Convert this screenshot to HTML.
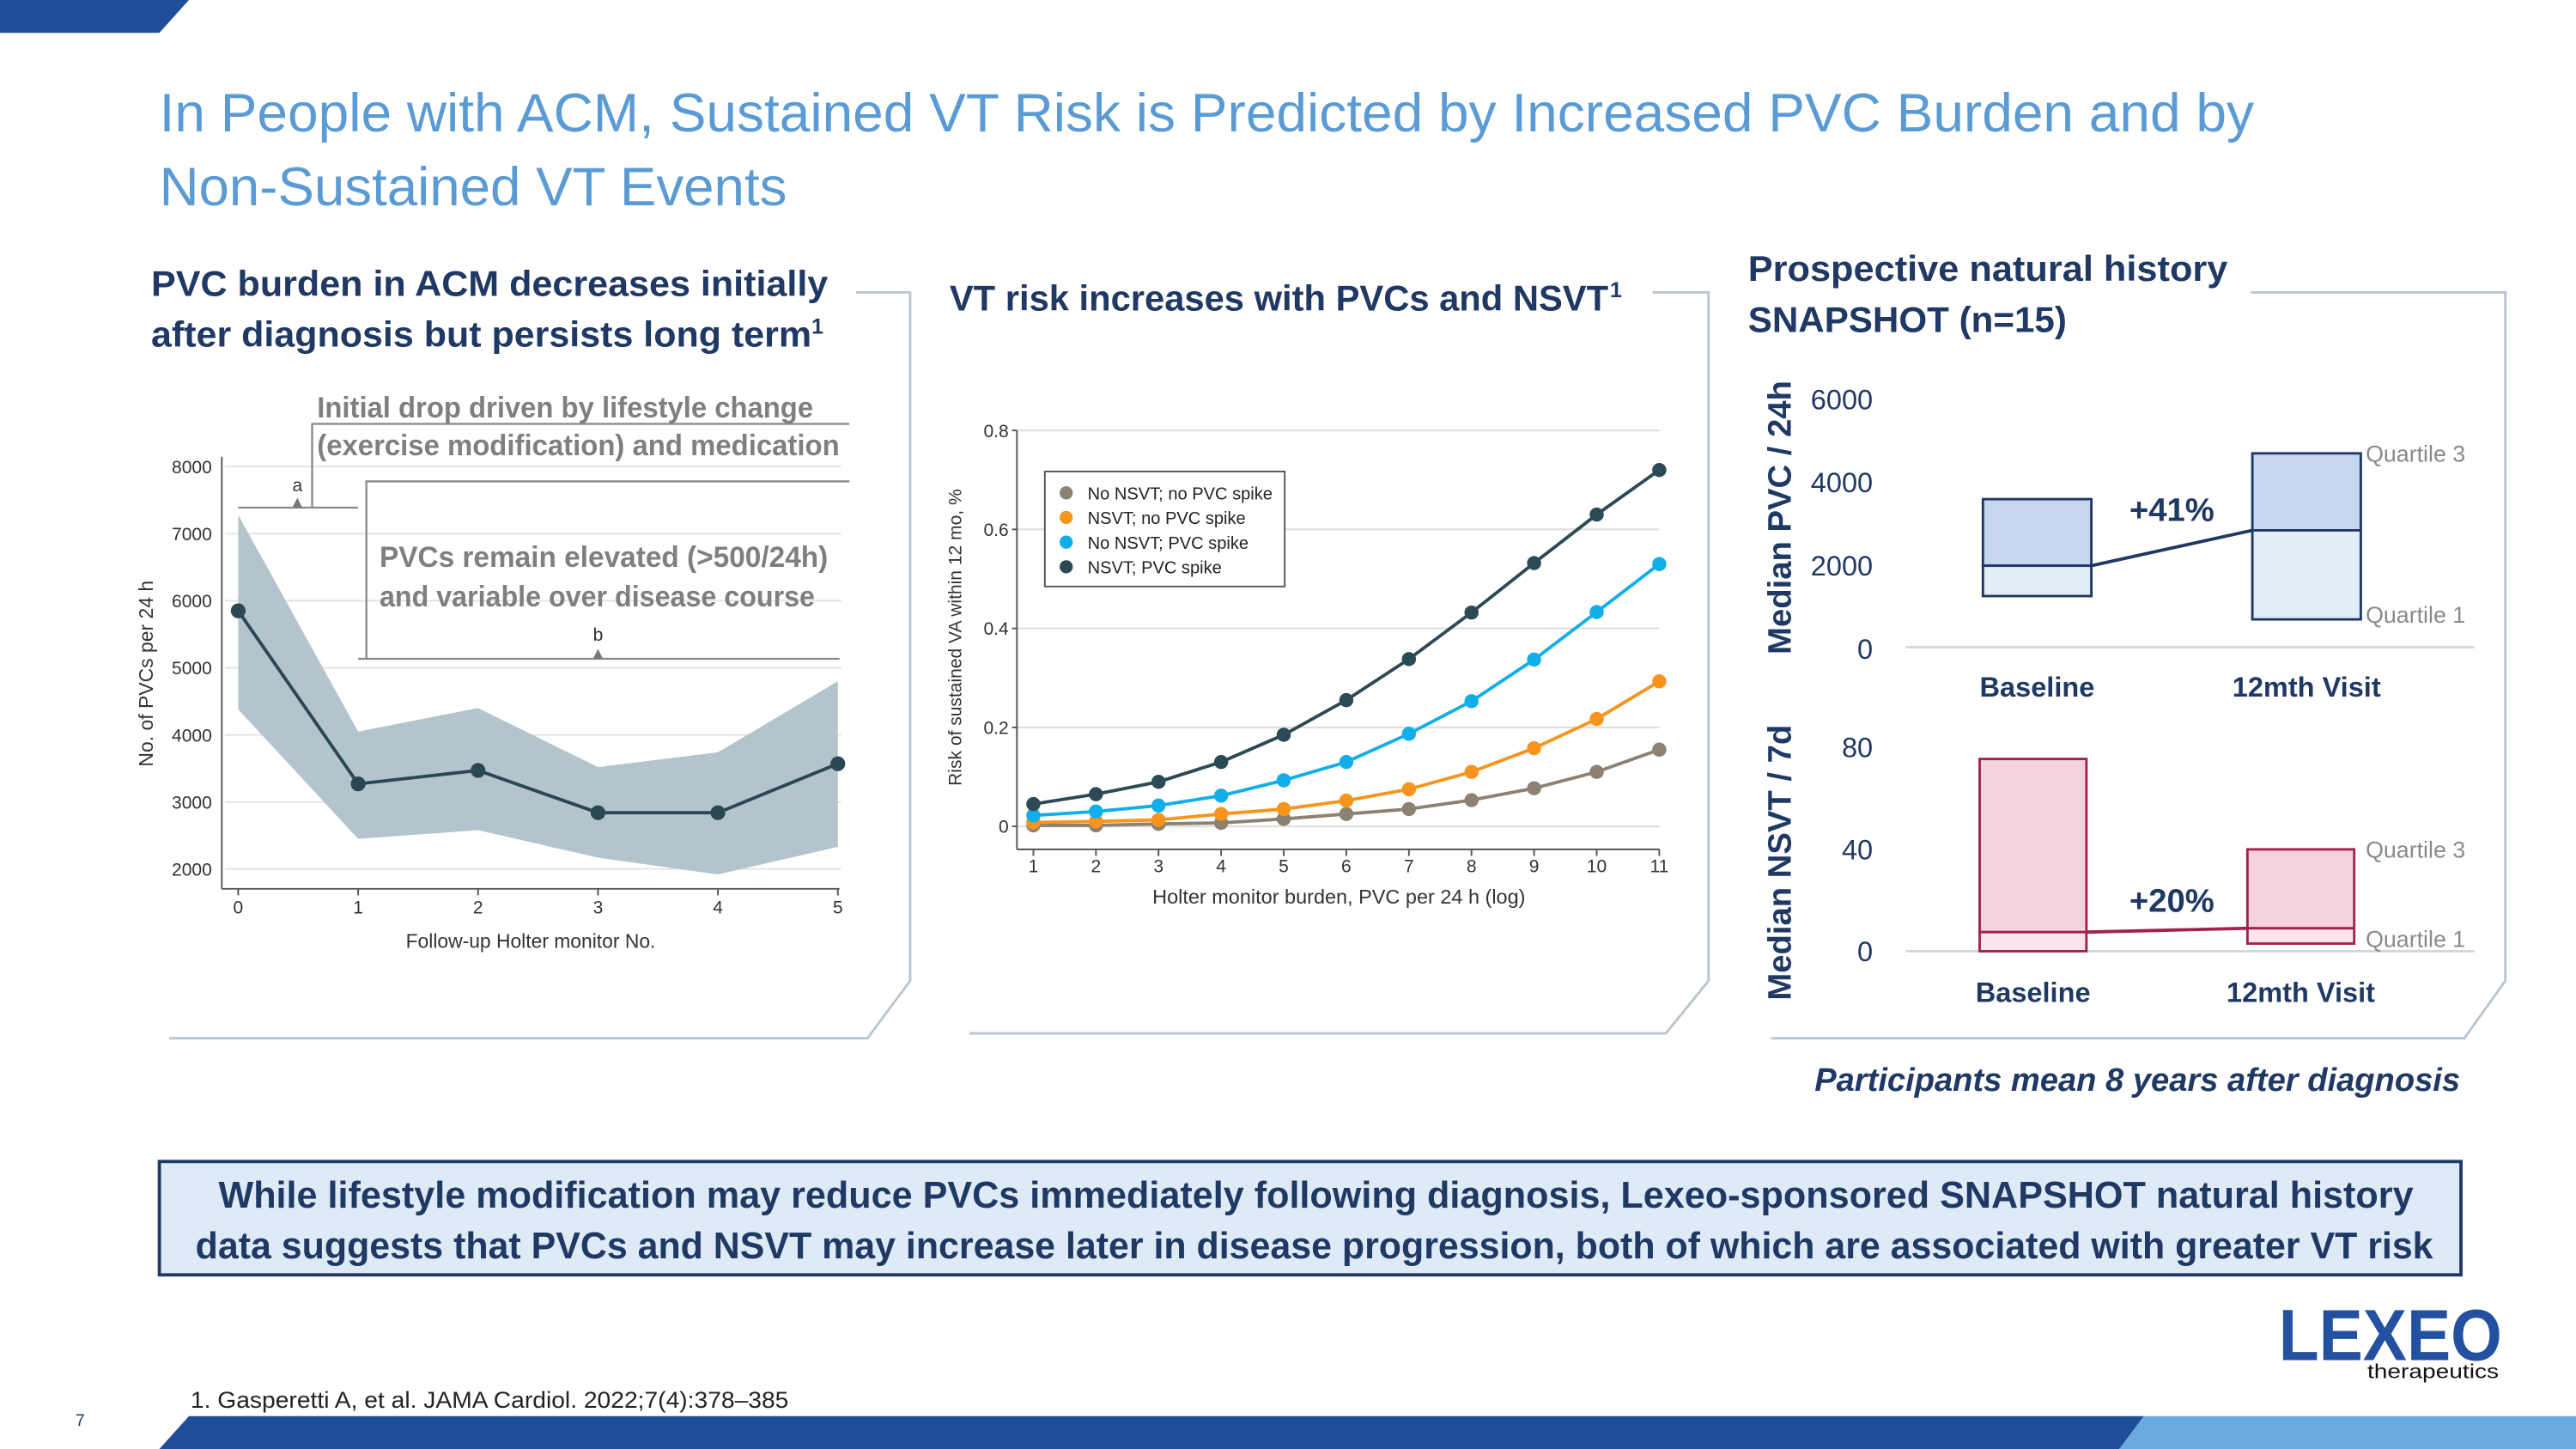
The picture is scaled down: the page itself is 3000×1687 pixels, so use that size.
<!DOCTYPE html>
<html><head><meta charset="utf-8"><style>
html,body{margin:0;padding:0;background:#fff;}
svg{display:block;font-family:"Liberation Sans",sans-serif;}
</style></head><body>
<svg id="s" width="3000" height="1687" viewBox="0 0 1568 882" preserveAspectRatio="none" xmlns="http://www.w3.org/2000/svg">
<polygon points="0,0 115,0 97,20 0,20" fill="#1f4e99"/>
<text x="97" y="80" font-size="33" fill="#5b9bd5" textLength="1275" lengthAdjust="spacingAndGlyphs">In People with ACM, Sustained VT Risk is Predicted by Increased PVC Burden and by</text>
<text x="97" y="125" font-size="33" fill="#5b9bd5" textLength="382" lengthAdjust="spacingAndGlyphs">Non-Sustained VT Events</text>

<g fill="none" stroke="#b9c6cf" stroke-width="1.5">
<polyline points="521,178 554,178 554,597 528,632 103,632"/>
<polyline points="1006,178 1040,178 1040,597 1014,629 590,629"/>
<polyline points="1370,178 1525,178 1525,597 1500,632 1078,632"/>
</g>
<g font-weight="bold" font-size="22" fill="#1f3864">
<text x="92" y="180" textLength="412" lengthAdjust="spacingAndGlyphs">PVC burden in ACM decreases initially</text>
<text x="92" y="211" textLength="402" lengthAdjust="spacingAndGlyphs">after diagnosis but persists long term</text>
<text x="494" y="203" font-size="13">1</text>
<text x="578" y="189" textLength="401" lengthAdjust="spacingAndGlyphs">VT risk increases with PVCs and NSVT</text>
<text x="980" y="181" font-size="13">1</text>
<text x="1064" y="171" textLength="292" lengthAdjust="spacingAndGlyphs">Prospective natural history</text>
<text x="1064" y="202" textLength="194" lengthAdjust="spacingAndGlyphs">SNAPSHOT (n=15)</text>
</g>
<g id="left"></g>
<g id="mid"></g>
<g id="right"></g>

<text x="1301" y="664" font-size="20" font-weight="bold" font-style="italic" fill="#1f3864" text-anchor="middle" textLength="393" lengthAdjust="spacingAndGlyphs">Participants mean 8 years after diagnosis</text>
<rect x="97" y="707" width="1401" height="69" fill="#deebf7" stroke="#1f3864" stroke-width="2"/>
<text x="801" y="735" font-size="23" font-weight="bold" fill="#1f3864" text-anchor="middle" textLength="1336" lengthAdjust="spacingAndGlyphs">While lifestyle modification may reduce PVCs immediately following diagnosis, Lexeo-sponsored SNAPSHOT natural history</text>
<text x="800" y="766" font-size="23" font-weight="bold" fill="#1f3864" text-anchor="middle" textLength="1362" lengthAdjust="spacingAndGlyphs">data suggests that PVCs and NSVT may increase later in disease progression, both of which are associated with greater VT risk</text>

<g>
<text x="1387" y="828" font-size="44" font-weight="bold" fill="#2450a0" textLength="136" lengthAdjust="spacingAndGlyphs">LEXEO</text>
<text x="1441" y="839" font-size="12" fill="#111" textLength="80" lengthAdjust="spacingAndGlyphs">therapeutics</text>
</g>
<text x="116" y="857" font-size="14" fill="#222" textLength="364" lengthAdjust="spacingAndGlyphs">1. Gasperetti A, et al. JAMA Cardiol. 2022;7(4):378–385</text>
<text x="46" y="868" font-size="10" fill="#1f3864">7</text>
<polygon points="115,862 1305,862 1290,882 97,882" fill="#1f4e99"/>
<polygon points="1305,862 1568,862 1568,882 1290,882" fill="#6aaae0"/>
</svg>
<script>
const NS='http://www.w3.org/2000/svg';
function mk(p,tag,at,txt){const e=document.createElementNS(NS,tag);for(const k in at)e.setAttribute(k,at[k]);if(txt!==undefined)e.textContent=txt;p.appendChild(e);return e;}

const visits=[0,1,2,3,4,5];
const pvcMedian=[5850,3270,3470,2840,2840,3570];
const pvcUpper=[7280,4050,4400,3520,3740,4800];
const pvcLower=[4380,2450,2580,2170,1920,2330];
const leftYTicks=[2000,3000,4000,5000,6000,7000,8000];

const burden=[1,2,3,4,5,6,7,8,9,10,11];
const riskNoNsvtNoSpike=[0.002,0.002,0.005,0.007,0.015,0.025,0.035,0.053,0.077,0.11,0.155];
const riskNsvtNoSpike=[0.008,0.01,0.013,0.025,0.035,0.052,0.075,0.11,0.158,0.217,0.293];
const riskNoNsvtSpike=[0.022,0.03,0.042,0.062,0.093,0.13,0.187,0.253,0.337,0.433,0.53];
const riskNsvtSpike=[0.045,0.065,0.09,0.13,0.185,0.255,0.338,0.432,0.532,0.63,0.72];
const midSeriesNames=['No NSVT; no PVC spike','NSVT; no PVC spike','No NSVT; PVC spike','NSVT; PVC spike'];
const midYTicks=[0,0.2,0.4,0.6,0.8];

const snapCats=['Baseline','12mth Visit'];
const pvcQ1=[1270,710];
const pvcMed=[2000,2850];
const pvcQ3=[3600,4700];
const pvcTicks=[0,2000,4000,6000];
const nsvtQ1=[0,3];
const nsvtMed=[7.5,9];
const nsvtQ3=[75.5,40];
const nsvtTicks=[0,40,80];

(function(){
 const g=document.getElementById('left');
 const x=v=>145+v*73, y=v=>529-(v-2000)*245/6000;
 leftYTicks.forEach(t=>{
  const l=mk(g,'line',{x1:137,x2:512,y1:y(t),y2:y(t),stroke:'#e3e3e3','stroke-width':1});
  
  const tx=mk(g,'text',{x:129,y:y(t)+4,'font-size':11,'text-anchor':'end',fill:'#333'},t);
  
 });
 let pts=visits.map((v,i)=>x(v)+','+y(pvcUpper[i])).concat(visits.slice().reverse().map((v,j)=>{const i=visits.length-1-j;return x(v)+','+y(pvcLower[i]);}));
 const band=mk(g,'polygon',{points:pts.join(' '),fill:'#b4c4cd'});
 
 mk(g,'line',{x1:135,x2:135,y1:278,y2:541,stroke:'#555'});
 mk(g,'line',{x1:135,x2:511,y1:541,y2:541,stroke:'#555'});
 visits.forEach(v=>{mk(g,'line',{x1:x(v),x2:x(v),y1:541,y2:545,stroke:'#555'});
  const t=mk(g,'text',{x:x(v),y:556,'font-size':11,'text-anchor':'middle',fill:'#333'},v);
  });
 const line=mk(g,'polyline',{points:visits.map((v,i)=>x(v)+','+y(pvcMedian[i])).join(' '),fill:'none',stroke:'#2b4752','stroke-width':2});
 
 visits.forEach((v,i)=>{const c=mk(g,'circle',{cx:x(v),cy:y(pvcMedian[i]),r:4.5,fill:'#2b4752'});
  });
 const yl=mk(g,'text',{x:0,y:0,'font-size':12,fill:'#333','text-anchor':'middle',transform:'translate(93,410) rotate(-90)'},'No. of PVCs per 24 h');
 
 const xl=mk(g,'text',{x:323,y:577,'font-size':12,fill:'#333','text-anchor':'middle',textLength:152,lengthAdjust:'spacingAndGlyphs'},'Follow-up Holter monitor No.');
 
 const s={stroke:'#888','stroke-width':1.2,fill:'none'};
 mk(g,'polyline',Object.assign({points:'145,309 218,309'},s));
 mk(g,'polyline',Object.assign({points:'190,309 190,258 517,258'},s));
 mk(g,'polygon',{points:'178,309 184,309 181,303',fill:'#777'});
 mk(g,'text',{x:181,y:299,'font-size':11,'text-anchor':'middle',fill:'#333'},'a');
 mk(g,'polyline',Object.assign({points:'218,401 511,401'},s));
 mk(g,'polyline',Object.assign({points:'223,401 223,293 517,293'},s));
 mk(g,'polygon',{points:'361,401 367,401 364,395',fill:'#777'});
 mk(g,'text',{x:364,y:390,'font-size':11,'text-anchor':'middle',fill:'#333'},'b');
 const a1=mk(g,'text',{x:193,y:254,'font-size':18,'font-weight':'bold',fill:'#7f7f7f',textLength:302,lengthAdjust:'spacingAndGlyphs'},'Initial drop driven by lifestyle change');
 
 mk(g,'text',{x:193,y:277,'font-size':18,'font-weight':'bold',fill:'#7f7f7f',textLength:318,lengthAdjust:'spacingAndGlyphs'},'(exercise modification) and medication');
 const a2=mk(g,'text',{x:231,y:345,'font-size':18,'font-weight':'bold',fill:'#7f7f7f',textLength:273,lengthAdjust:'spacingAndGlyphs'},'PVCs remain elevated (>500/24h)');
 
 mk(g,'text',{x:231,y:369,'font-size':18,'font-weight':'bold',fill:'#7f7f7f',textLength:265,lengthAdjust:'spacingAndGlyphs'},'and variable over disease course');
})();

(function(){
 const g=document.getElementById('mid');
 const x=v=>629+(v-1)*38.1, y=v=>503-v*301.25;
 midYTicks.forEach(t=>{
  const l=mk(g,'line',{x1:619,x2:1010,y1:y(t),y2:y(t),stroke:'#e0e0e0','stroke-width':1.2});
  
  mk(g,'line',{x1:616,x2:619,y1:y(t),y2:y(t),stroke:'#555'});
  const tx=mk(g,'text',{x:614,y:y(t)+4,'font-size':11,'text-anchor':'end',fill:'#333'},String(t));
  
 });
 mk(g,'line',{x1:619,x2:619,y1:262,y2:517,stroke:'#555'});
 mk(g,'line',{x1:619,x2:1010,y1:517,y2:517,stroke:'#555'});
 burden.forEach(v=>{mk(g,'line',{x1:x(v),x2:x(v),y1:517,y2:521,stroke:'#555'});
  const t=mk(g,'text',{x:x(v),y:531,'font-size':11,'text-anchor':'middle',fill:'#333'},v);
  });
 const series=[riskNoNsvtNoSpike,riskNsvtNoSpike,riskNoNsvtSpike,riskNsvtSpike];
 const colors=['#8c8272','#f7941d','#11aeea','#2b4a56'];
 series.forEach((d,si)=>{
  const pl=mk(g,'polyline',{points:burden.map((v,i)=>x(v)+','+y(d[i])).join(' '),fill:'none',stroke:colors[si],'stroke-width':2});
  
  burden.forEach((v,i)=>{const c=mk(g,'circle',{cx:x(v),cy:y(d[i]),r:4.3,fill:colors[si]});
   });
 });
 const lg=mk(g,'g',{});
 mk(lg,'rect',{x:636,y:287,width:146,height:70,fill:'#fff',stroke:'#555'});
 midSeriesNames.forEach((n,i)=>{
  mk(lg,'circle',{cx:649,cy:300+i*15,r:4,fill:colors[i]});
  const t=mk(lg,'text',{x:662,y:304+i*15,'font-size':10.5,fill:'#222'},n);
  
 });
 const yl=mk(g,'text',{x:0,y:0,'font-size':11,fill:'#333','text-anchor':'middle',transform:'translate(585,388) rotate(-90)'},'Risk of sustained VA within 12 mo, %');
 
 const xl=mk(g,'text',{x:815,y:550,'font-size':12,fill:'#333','text-anchor':'middle',textLength:227,lengthAdjust:'spacingAndGlyphs'},'Holter monitor burden, PVC per 24 h (log)');
 
})();

(function(){
 const g=document.getElementById('right');
 function panel(q1,med,q3,ticks,y,xs,w,stroke,fillTop,fillBot,pct,pctY,labY,title,titleY,axisY){
  ticks.forEach(t=>{const tx=mk(g,'text',{x:1140,y:y(t)+6,'font-size':17,'text-anchor':'end',fill:'#1f3864'},t);
   });
  mk(g,'line',{x1:1160,x2:1506,y1:axisY,y2:axisY,stroke:'#d0d7de','stroke-width':1.5});
  snapCats.forEach((c,i)=>{
   const bt=mk(g,'rect',{x:xs[i],y:y(q3[i]),width:w,height:y(med[i])-y(q3[i]),fill:fillTop,stroke:stroke,'stroke-width':1.5});
   
   const bb=mk(g,'rect',{x:xs[i],y:y(med[i]),width:w,height:y(q1[i])-y(med[i]),fill:fillBot,stroke:stroke,'stroke-width':1.5});
   
   const t=mk(g,'text',{x:xs[i]+w/2,y:labY,'font-size':17,'font-weight':'bold',fill:'#1f3864','text-anchor':'middle'},c);
   
  });
  const ml=mk(g,'line',{x1:xs[0]+w,y1:y(med[0]),x2:xs[1],y2:y(med[1]),stroke:stroke,'stroke-width':2});
  
  const pt=mk(g,'text',{x:1322,y:pctY,'font-size':20,'font-weight':'bold',fill:'#1f3864','text-anchor':'middle'},pct);
  
  mk(g,'text',{x:1440,y:y(q3[1])+5,'font-size':14,fill:'#8a8a8a'},'Quartile 3');
  mk(g,'text',{x:1440,y:y(q1[1])+2,'font-size':14,fill:'#8a8a8a'},'Quartile 1');
  const yt=mk(g,'text',{x:0,y:0,'font-size':20,'font-weight':'bold',fill:'#1f3864','text-anchor':'middle',transform:'translate(1090,'+titleY+') rotate(-90)'},title);
  
 }
 panel(pvcQ1,pvcMed,pvcQ3,pvcTicks,v=>395-v*0.02533,[1207,1371],66,'#1f3864','#c5d6ee','#e2edf8','+41%',317,424,'Median PVC / 24h',315,394);
 panel(nsvtQ1,nsvtMed,nsvtQ3,nsvtTicks,v=>579-v*1.55,[1205,1368],65,'#a3224a','#f5d3de','#fbe4eb','+20%',555,610,'Median NSVT / 7d',525,579);
})();
</script>
</body></html>
